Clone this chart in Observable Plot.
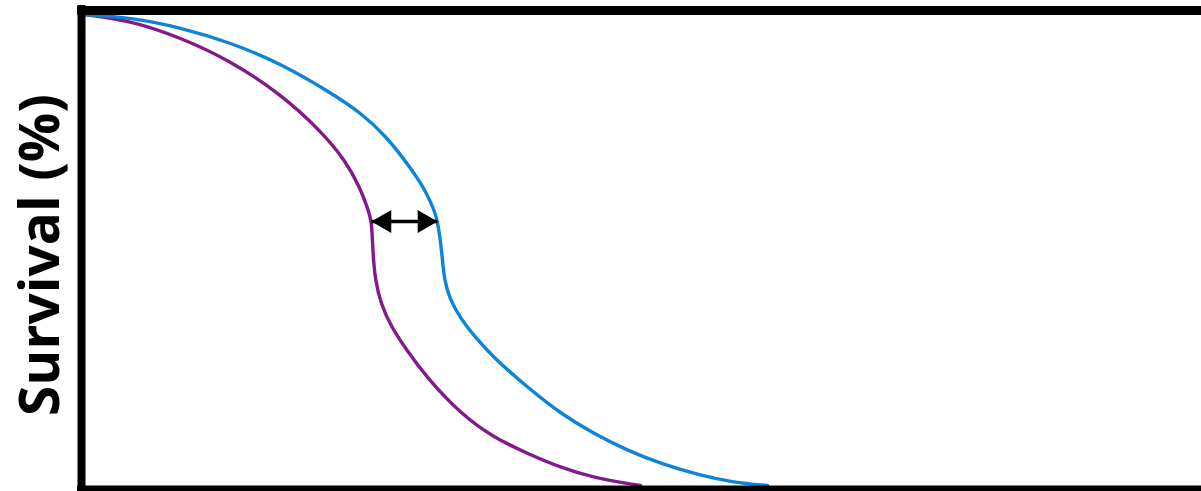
<!DOCTYPE html>
<html>
<head>
<meta charset="utf-8">
<script src="https://cdn.jsdelivr.net/npm/d3@7"></script>
<script src="https://cdn.jsdelivr.net/npm/@observablehq/plot@0.6"></script>
<style>
  html, body { margin: 0; padding: 0; background: #fff; }
  #chart svg { display: block; }
</style>
</head>
<body>
<div id="chart"></div>
<script>
// Survival curves: an earlier-failing group and a delayed group.
const earlyTime = [0, 4.12, 8.59, 13.03, 17.5, 21.13, 23.37, 24.71, 25.42, 25.69, 25.78, 25.87, 26.05, 26.5, 27.39, 28.74, 30.71, 33.66, 36.62, 39.66, 42.61, 45.57, 48.61, 49.78];
const earlySurvival = [100, 98.73, 95.12, 90.23, 83.23, 75.37, 69.0, 63.06, 58.39, 56.05, 52.02, 47.77, 43.52, 38.85, 33.97, 29.09, 22.72, 15.29, 10.19, 6.79, 3.82, 1.70, 0.42, 0];

const lateTime = [0, 4.12, 8.59, 13.07, 17.55, 22.02, 24.71, 26.95, 29.18, 30.53, 31.33, 31.6, 31.87, 32.05, 32.23, 32.68, 33.66, 35.0, 36.62, 39.66, 42.61, 45.57, 48.61, 51.57, 55.15, 58.1, 61.15];
const lateSurvival = [100, 99.36, 97.24, 94.06, 89.6, 83.44, 79.19, 74.31, 67.52, 62.63, 58.39, 56.05, 52.02, 47.77, 43.52, 39.7, 35.46, 31.42, 27.18, 20.81, 15.29, 11.04, 7.43, 4.67, 2.12, 0.64, 0];

// Survival level at which the horizontal shift between the curves is marked
const gapLevel = 56.05;

const early = earlyTime.map((t, i) => ({time: t, survival: earlySurvival[i]}));
const late = lateTime.map((t, i) => ({time: t, survival: lateSurvival[i]}));

const gap = [{
  from: early.find(d => d.survival === gapLevel).time,
  to: late.find(d => d.survival === gapLevel).time,
  level: gapLevel
}];

const purple = "#84198b";
const blue = "#0c84d8";
const headOffset = 13.2;

const chart = Plot.plot({
  width: 1201,
  height: 491,
  marginLeft: 84,
  marginTop: 14,
  marginRight: 0,
  marginBottom: 6,
  x: {domain: [0, 100], axis: null},
  y: {domain: [0, 100], axis: null},
  marks: [
    Plot.line(early, {x: "time", y: "survival", stroke: purple, strokeWidth: 3.4, curve: "basis"}),
    Plot.line(late, {x: "time", y: "survival", stroke: blue, strokeWidth: 3.4, curve: "basis"}),
    // double-headed arrow between the curves
    Plot.link(gap, {x1: "from", x2: "to", y1: "level", y2: "level", stroke: "black", strokeWidth: 3.5}),
    Plot.dot(gap, {x: "from", y: "level", symbol: "triangle", r: 8.5, rotate: -90, dx: headOffset, fill: "black", stroke: null}),
    Plot.dot(gap, {x: "to", y: "level", symbol: "triangle", r: 8.5, rotate: 90, dx: -headOffset, fill: "black", stroke: null}),
    // heavy frame on the left, top and bottom
    Plot.ruleX([0], {stroke: "black", strokeWidth: 8, dx: -3, insetTop: -9, insetBottom: -8}),
    Plot.ruleY([100], {stroke: "black", strokeWidth: 9, dy: -4, insetLeft: -7}),
    Plot.ruleY([0], {stroke: "black", strokeWidth: 8, dy: 4, insetLeft: -7}),
    // axis title
    Plot.text(["Survival (%)"], {
      frameAnchor: "left",
      textAnchor: "middle",
      dx: -43,
      dy: 5,
      rotate: -90,
      text: d => d,
      fontSize: 55,
      fontWeight: "bold",
      fontFamily: "Open Sans",
      fill: "black"
    })
  ]
});

document.getElementById("chart").append(chart);
</script>
</body>
</html>
